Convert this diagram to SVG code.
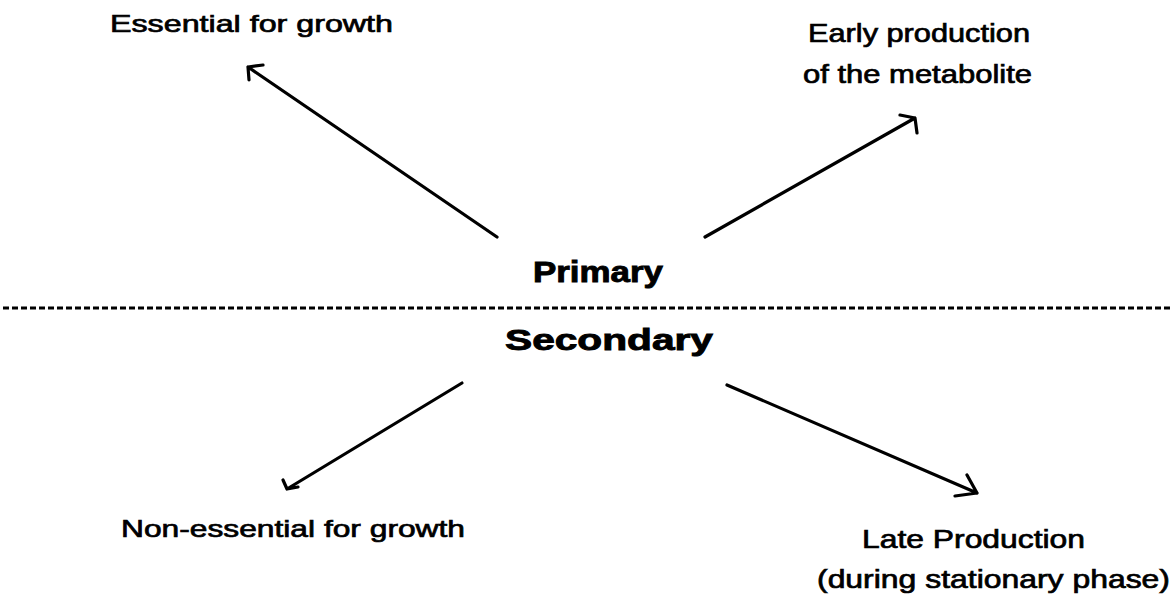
<svg xmlns="http://www.w3.org/2000/svg" width="1173" height="601" viewBox="0 0 1173 601">
<style>
.lbl{font-family:"Liberation Sans",Arial,sans-serif;font-size:24px;fill:#000;stroke:#000;stroke-width:0.7}
.big{font-size:25.5px}
.hd{font-family:"Liberation Sans",Arial,sans-serif;font-size:29px;font-weight:bold;fill:#000;stroke:#000;stroke-width:0.9}
.ar{fill:none;stroke:#000;stroke-width:3.2;stroke-linecap:round;stroke-linejoin:round}
.dash{fill:none;stroke:#000;stroke-width:3;stroke-dasharray:6 3}
</style>
<rect width="1173" height="601" fill="#fff"/>
<g id="divider"><line class="dash" x1="3" y1="308" x2="1173" y2="308"/></g>
<g id="primary"><text class="hd" x="533" y="282" font-size="30" textLength="130" lengthAdjust="spacingAndGlyphs">Primary</text></g>
<g id="secondary"><text class="hd" x="505" y="350" font-size="28" textLength="208" lengthAdjust="spacingAndGlyphs">Secondary</text></g>
<g id="essential"><text class="lbl" x="110" y="32" textLength="283" lengthAdjust="spacingAndGlyphs">Essential for growth</text></g>
<g id="early"><text class="lbl big" x="808" y="42" textLength="222" lengthAdjust="spacingAndGlyphs">Early production</text><text class="lbl big" x="803" y="83" textLength="229" lengthAdjust="spacingAndGlyphs">of the metabolite</text></g>
<g id="nonessential"><text class="lbl" x="121" y="537" textLength="344" lengthAdjust="spacingAndGlyphs">Non-essential for growth</text></g>
<g id="late"><text class="lbl big" x="862" y="548" textLength="223" lengthAdjust="spacingAndGlyphs">Late Production</text><text class="lbl big" x="817" y="588" textLength="353" lengthAdjust="spacingAndGlyphs">(during stationary phase)</text></g>
<g id="connectors">
<path class="ar" d="M497,237 L248,67 M263,65 L248,67 L249,80"/>
<path class="ar" d="M705,237 L915,118 M900,115 L915,118 L917,133"/>
<path class="ar" d="M462,383 L287,489 M283,480 L287,489 L298,487"/>
<path class="ar" d="M727,385 L977,493 M967,475 L977,493 L955,496"/>
</g>
</svg>
